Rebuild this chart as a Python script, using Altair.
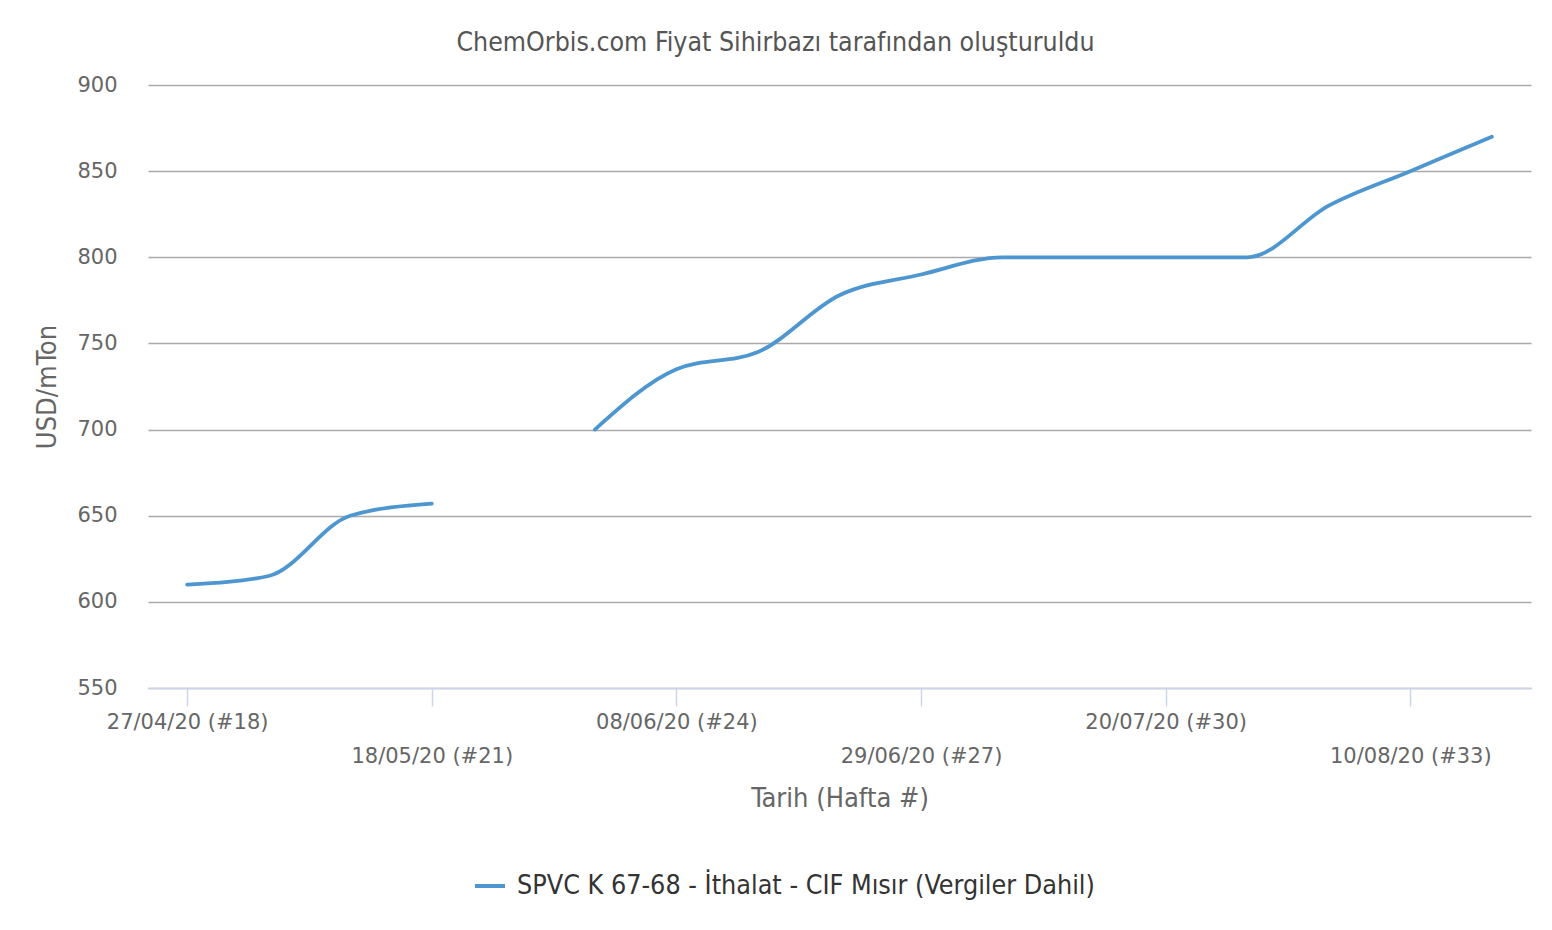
import altair as alt
import pandas as pd

# ---- data ----
weeks = list(range(18, 35))
dates = ["27/04/20", "04/05/20", "11/05/20", "18/05/20", "25/05/20", "01/06/20",
         "08/06/20", "15/06/20", "22/06/20", "29/06/20", "06/07/20", "13/07/20",
         "20/07/20", "27/07/20", "03/08/20", "10/08/20", "17/08/20"]
prices = [610, 615, 650, 657, None, 700, 735, 745, 778, 790, 800, 800, 800, 800,
          830, 850, 870]
series_name = "SPVC K 67-68 - İthalat - CIF Mısır (Vergiler Dahil)"
tick_weeks = [18, 21, 24, 27, 30, 33]
tick_labels = ["27/04/20 (#18)", "18/05/20 (#21)", "08/06/20 (#24)",
               "29/06/20 (#27)", "20/07/20 (#30)", "10/08/20 (#33)"]
y_ticks = [550, 600, 650, 700, 750, 800, 850, 900]

# build table, splitting the line where a value is missing
rows = []
seg = 0
for w, d, p in zip(weeks, dates, prices):
    if p is None:
        seg += 1
        continue
    rows.append({"week": w, "date": d, "price": p, "seg": seg, "series": series_name})
df = pd.DataFrame(rows)

# staggered x labels (second row for every other tick)
expr = "''"
for i in reversed(range(len(tick_weeks))):
    lab = tick_labels[i]
    js = f"'{lab}'" if i % 2 == 0 else f"['', '{lab}']"
    expr = f"datum.value == {tick_weeks[i]} ? {js} : ({expr})"

COND = "DejaVu Sans Condensed, Liberation Sans Narrow, DejaVu Sans, sans-serif"
TICKF = "DejaVu Sans, Verdana, sans-serif"

chart = alt.Chart(df).mark_line(
    interpolate="monotone", strokeWidth=3.8, strokeCap="round"
).encode(
    x=alt.X("week:Q",
            scale=alt.Scale(domain=[17.52, 34.48], nice=False, zero=False),
            axis=alt.Axis(values=tick_weeks, labelExpr=expr, title="Tarih (Hafta #)",
                          grid=False, domainColor="#ccd6eb", tickColor="#ccd6eb",
                          tickSize=18, domainWidth=1.5, tickWidth=1.5,
                          labelPadding=5, labelFont=TICKF, labelFontSize=21,
                          labelColor="#666666", labelLineHeight=34,
                          labelOverlap=False, labelFlush=False, labelBound=False,
                          labelBaseline="top",
                          titleFont=COND, titleFontSize=27, titleFontWeight="normal",
                          titleColor="#666666", titlePadding=19)),
    y=alt.Y("price:Q",
            scale=alt.Scale(domain=[550, 900], nice=False, zero=False),
            axis=alt.Axis(values=y_ticks, title="USD/mTon", domain=False, ticks=False,
                          grid=True, gridColor="#aaaaaa", gridWidth=1.4,
                          labelPadding=31, labelFont=TICKF, labelFontSize=21,
                          labelColor="#666666",
                          titleFont=COND, titleFontSize=27, titleFontWeight="normal",
                          titleColor="#666666", titlePadding=15)),
    color=alt.Color("series:N", scale=alt.Scale(range=["#4d96d0"]),
                    legend=alt.Legend(title=None, orient="none", legendX=325, legendY=784,
                                      symbolType="stroke", symbolSize=900,
                                      symbolStrokeWidth=4, padding=0,
                                      labelFont=COND, labelFontSize=26.7,
                                      labelColor="#333333", labelOffset=10,
                                      labelLimit=0)),
    detail="seg:N",
).properties(
    width=1383, height=603,
    padding={"left": 140, "top": 77, "right": 13, "bottom": 230},
    autosize=alt.AutoSizeParams(type="none"),
    title=alt.TitleParams("ChemOrbis.com Fiyat Sihirbazı tarafından oluşturuldu",
                          anchor="middle", frame="group", dx=-64, offset=18,
                          font=COND, fontSize=26.5, fontWeight="normal", color="#555555"),
    background="white",
).configure_view(stroke=None)

chart.save("out.html", embed_options={"renderer": "svg", "actions": False})
